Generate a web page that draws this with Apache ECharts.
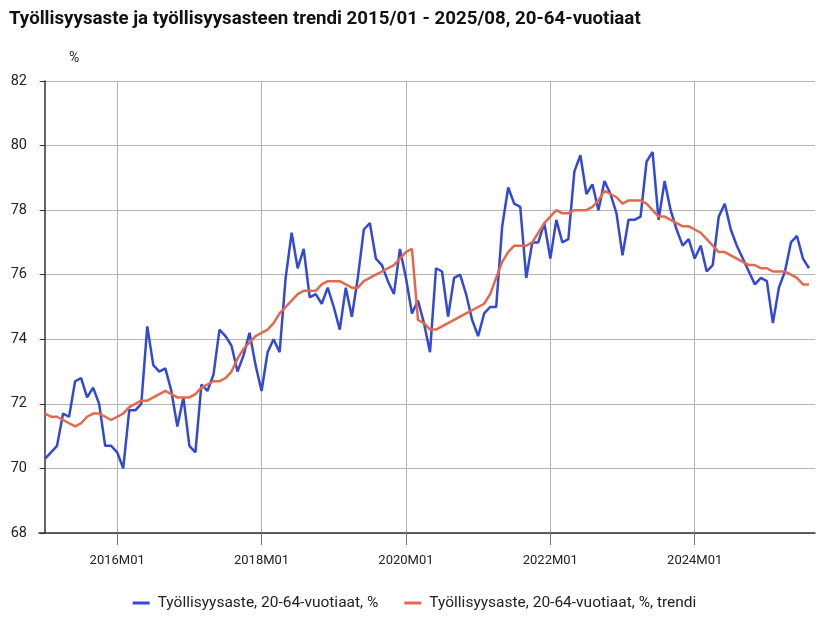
<!DOCTYPE html>
<html>
<head>
<meta charset="utf-8">
<script src="https://cdn.jsdelivr.net/npm/echarts@6/dist/echarts.min.js"></script>
<style>html,body{margin:0;padding:0;background:#fff}#c{width:829px;height:620px}</style>
</head>
<body>
<div id="c"></div>
<script>
// Month labels 2015M01 .. 2025M08
var categories = [];
for (var y = 2015; y <= 2025; y++) {
  for (var m = 1; m <= 12; m++) {
    if (y === 2025 && m > 8) break;
    categories.push(y + 'M' + (m < 10 ? '0' + m : m));
  }
}
var xTickLabels = ['2016M01', '2018M01', '2020M01', '2022M01', '2024M01'];
var yTicks = [68, 70, 72, 74, 76, 78, 80, 82];

var employmentRate = [
  70.3, 70.5, 70.7, 71.7, 71.6, 72.7, 72.8, 72.2, 72.5, 72.0, 70.7, 70.7,
  70.5, 70.0, 71.8, 71.8, 72.0, 74.4, 73.2, 73.0, 73.1, 72.4, 71.3, 72.2,
  70.7, 70.5, 72.6, 72.4, 72.9, 74.3, 74.1, 73.8, 73.0, 73.5, 74.2, 73.2,
  72.4, 73.6, 74.0, 73.6, 75.9, 77.3, 76.2, 76.8, 75.3, 75.4, 75.1, 75.6,
  75.0, 74.3, 75.6, 74.7, 75.9, 77.4, 77.6, 76.5, 76.3, 75.8, 75.4, 76.8,
  75.9, 74.8, 75.2, 74.5, 73.6, 76.2, 76.1, 74.7, 75.9, 76.0, 75.4, 74.6,
  74.1, 74.8, 75.0, 75.0, 77.5, 78.7, 78.2, 78.1, 75.9, 77.0, 77.0, 77.6,
  76.5, 77.7, 77.0, 77.1, 79.2, 79.7, 78.5, 78.8, 78.0, 78.9, 78.5, 77.9,
  76.6, 77.7, 77.7, 77.8, 79.5, 79.8, 77.7, 78.9, 78.0, 77.4, 76.9, 77.1,
  76.5, 76.9, 76.1, 76.3, 77.8, 78.2, 77.4, 76.9, 76.5, 76.1, 75.7, 75.9,
  75.8, 74.5, 75.6, 76.1, 77.0, 77.2, 76.5, 76.2
];
var employmentTrend = [
  71.7, 71.6, 71.6, 71.5, 71.4, 71.3, 71.4, 71.6, 71.7, 71.7, 71.6, 71.5,
  71.6, 71.7, 71.9, 72.0, 72.1, 72.1, 72.2, 72.3, 72.4, 72.3, 72.2, 72.2,
  72.2, 72.3, 72.5, 72.6, 72.7, 72.7, 72.8, 73.0, 73.4, 73.7, 73.9, 74.1,
  74.2, 74.3, 74.5, 74.8, 75.0, 75.2, 75.4, 75.5, 75.5, 75.5, 75.7, 75.8,
  75.8, 75.8, 75.7, 75.6, 75.6, 75.8, 75.9, 76.0, 76.1, 76.2, 76.3, 76.5,
  76.7, 76.8, 74.6, 74.5, 74.3, 74.3, 74.4, 74.5, 74.6, 74.7, 74.8, 74.9,
  75.0, 75.1, 75.4, 75.9, 76.4, 76.7, 76.9, 76.9, 76.9, 77.0, 77.3, 77.6,
  77.8, 78.0, 77.9, 77.9, 78.0, 78.0, 78.0, 78.1, 78.3, 78.6, 78.5, 78.4,
  78.2, 78.3, 78.3, 78.3, 78.2, 78.0, 77.8, 77.8, 77.7, 77.6, 77.5, 77.5,
  77.4, 77.3, 77.1, 76.9, 76.7, 76.7, 76.6, 76.5, 76.4, 76.3, 76.3, 76.2,
  76.2, 76.1, 76.1, 76.1, 76.0, 75.9, 75.7, 75.7
];
var seriesNames = ['Työllisyysaste, 20-64-vuotiaat, %', 'Työllisyysaste, 20-64-vuotiaat, %, trendi'];
var titleText = 'Työllisyysaste ja työllisyysasteen trendi 2015/01 - 2025/08, 20-64-vuotiaat';

function pairs(arr) { return arr.map(function (v, i) { return [i, v]; }); }
var tickIdx = xTickLabels.map(function (l) { return categories.indexOf(l); });

var chart = echarts.init(document.getElementById('c'), null, { renderer: 'canvas' });
var font = 'Roboto';
chart.setOption({
  backgroundColor: '#fff',
  animation: false,
  title: {
    text: titleText, left: 4, top: 5,
    textStyle: { fontFamily: font, fontSize: 18.7, fontWeight: 'bold', color: '#111' }
  },
  legend: {
    bottom: 4, left: 'center', itemGap: 26, itemWidth: 17, itemHeight: 3, icon: 'rect',
    textStyle: { fontFamily: font, fontSize: 15.5, color: '#222', padding: [0, 0, 0, 3] },
    data: seriesNames
  },
  grid: { left: 39, right: 14, top: 81, bottom: 87 },
  xAxis: {
    type: 'value', min: -1, max: 128,
    axisLine: { show: true, onZero: false, lineStyle: { color: '#333', width: 1.5 } },
    axisTick: { show: true, length: 12, customValues: tickIdx, lineStyle: { color: '#777' } },
    axisLabel: {
      customValues: tickIdx, margin: 21, fontFamily: font, fontSize: 13, color: '#222',
      formatter: function (v) { return categories[v]; }
    },
    splitLine: { show: true, lineStyle: { color: '#b4b4b4', width: 1 } }
  },
  yAxis: {
    type: 'value', min: 68, max: 82, interval: 2,
    name: '%', nameGap: 16, nameLocation: 'end',
    nameTextStyle: { fontFamily: font, fontSize: 14, color: '#222', align: 'left', padding: [0, 0, 0, 24] },
    axisLine: { show: true, lineStyle: { color: '#333', width: 1.5 } },
    axisTick: { show: true, length: 5, lineStyle: { color: '#333' } },
    axisLabel: { margin: 12, fontFamily: font, fontSize: 14.5, color: '#222' },
    splitLine: { show: true, lineStyle: { color: '#b4b4b4', width: 1 } }
  },
  series: [
    {
      name: seriesNames[0], type: 'line', data: pairs(employmentRate),
      showSymbol: false, symbol: 'none', z: 2,
      lineStyle: { color: '#3349d6', width: 2.5 }, itemStyle: { color: '#3349d6' }
    },
    {
      name: seriesNames[1], type: 'line', data: pairs(employmentTrend),
      showSymbol: false, symbol: 'none', z: 3,
      lineStyle: { color: '#e3694a', width: 2.5 }, itemStyle: { color: '#e3694a' }
    }
  ]
});
</script>
</body>
</html>
